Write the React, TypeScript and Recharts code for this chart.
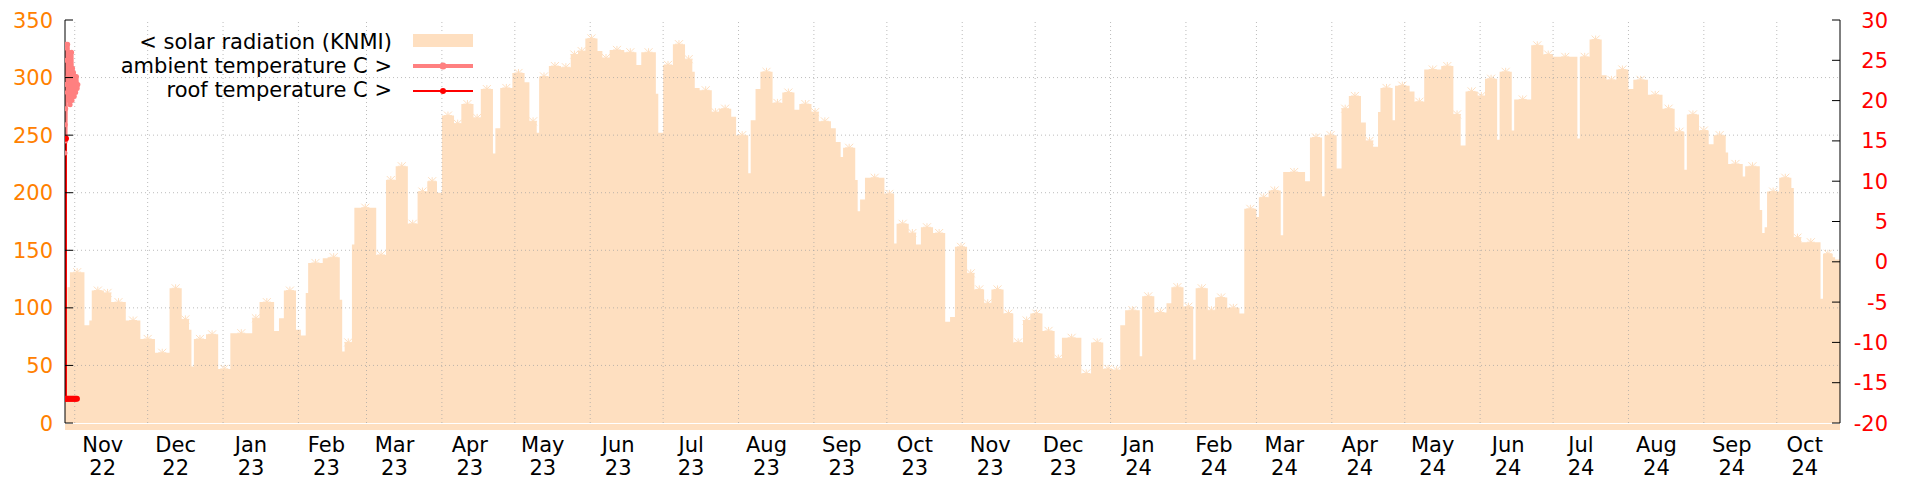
import { ComposedChart, Area, Line, XAxis, YAxis, ReferenceLine, ReferenceArea, Legend } from 'recharts';

// x values are day offsets counted from 1 Nov 2022
const monthStarts = [0, 30, 61, 92, 120, 151, 181, 212, 242, 273, 304, 334, 365, 395, 426, 457, 486, 517, 547, 578, 608, 639, 670, 700, 731];
const monthNames = ['Nov', 'Dec', 'Jan', 'Feb', 'Mar', 'Apr', 'May', 'Jun', 'Jul', 'Aug', 'Sep', 'Oct', 'Nov', 'Dec', 'Jan', 'Feb', 'Mar', 'Apr', 'May', 'Jun', 'Jul', 'Aug', 'Sep', 'Oct'];
const monthYears = ['22', '22', '23', '23', '23', '23', '23', '23', '23', '23', '23', '23', '23', '23', '24', '24', '24', '24', '24', '24', '24', '24', '24', '24'];

const leftTicks = [0, 50, 100, 150, 200, 250, 300, 350];
const rightTicks = [-20, -15, -10, -5, 0, 5, 10, 15, 20, 25, 30];

// solar radiation (KNMI), step series: day where a new level starts, and the level
const radDays = [-4, -3, -2, 4, 6, 7, 12, 15, 21, 27, 33, 39, 44, 47, 48, 49, 54, 59, 64, 73, 76, 82, 84, 86, 91, 93, 95, 96, 102, 104, 109, 110, 111, 114, 115, 124, 128, 132, 137, 141, 145, 149, 151, 156, 159, 164, 167, 172, 173, 175, 180, 185, 187, 190, 191, 195, 200, 204, 207, 210, 215, 217, 220, 226, 231, 233, 239, 240, 242, 246, 251, 254, 255, 257, 262, 265, 270, 272, 277, 278, 280, 282, 287, 291, 296, 298, 303, 306, 311, 313, 315, 316, 321, 322, 323, 325, 333, 337, 338, 343, 346, 348, 353, 358, 360, 362, 367, 370, 374, 377, 382, 386, 390, 393, 398, 403, 406, 414, 418, 423, 427, 430, 432, 438, 439, 444, 449, 451, 456, 460, 461, 466, 469, 474, 479, 481, 486, 487, 491, 496, 497, 506, 508, 513, 514, 519, 521, 524, 529, 531, 534, 536, 537, 542, 543, 549, 551, 555, 562, 567, 570, 572, 577, 580, 585, 586, 591, 592, 599, 604, 608, 618, 619, 623, 628, 630, 634, 639, 641, 647, 653, 658, 662, 663, 668, 672, 674, 679, 680, 686, 687, 693, 694, 695, 696, 701, 706, 707, 710, 718, 719, 723, 724, 726];
const radValues = [101, 118, 131, 85, 89, 115, 113, 105, 89, 73, 61, 117, 90, 81, 49, 73, 77, 47, 78, 91, 105, 80, 91, 115, 81, 76, 113, 139, 143, 144, 107, 62, 70, 155, 187, 146, 211, 223, 173, 201, 210, 200, 267, 260, 277, 265, 290, 234, 256, 291, 304, 296, 262, 252, 301, 310, 309, 320, 323, 334, 323, 317, 324, 322, 311, 322, 286, 252, 311, 329, 316, 305, 291, 289, 270, 273, 266, 250, 217, 263, 290, 305, 278, 287, 272, 277, 270, 262, 256, 244, 231, 239, 211, 184, 194, 213, 199, 156, 173, 165, 155, 170, 165, 88, 92, 153, 130, 116, 104, 116, 95, 70, 89, 95, 80, 56, 74, 43, 70, 47, 46, 85, 98, 58, 110, 96, 104, 118, 101, 55, 117, 98, 109, 100, 95, 186, 179, 196, 202, 163, 218, 210, 248, 197, 250, 221, 273, 284, 261, 245, 240, 270, 291, 263, 293, 288, 279, 307, 310, 268, 241, 288, 284, 299, 246, 305, 254, 281, 328, 320, 318, 247, 318, 333, 302, 298, 307, 290, 298, 285, 273, 253, 220, 268, 254, 242, 250, 235, 225, 214, 223, 185, 165, 170, 201, 213, 204, 161, 157, 108, 147, 144, 142, 142];

// ambient temperature, only logged during the first days
const ambDays = [-4, -3.9, -3.8, -3.7, -3.6, -3.5, -3.4, -3.3, -3.1, -2.9, -2.7, -2.5, -2.3, -2.1, -1.9, -1.7, -1.5, -1.3, -1.1, -0.9, -0.7, -0.5, -0.2, 0.1, 0.4, 0.7, 1.0, 1.3];
const ambTemps = [13.5, 17, 15, 19, 22, 27, 25, 26.5, 21, 27, 23, 26, 20, 25, 19.5, 24.5, 21, 26, 20, 24, 22, 23.5, 20.5, 23, 21, 23, 21.5, 22];

// roof temperature
const roofDays = [-4, -3.9, -3.6, -3.6, -3.1, -2.6, -2.1, -1.6, -1.1, -0.6, -0.1, 0.4, 0.9];
const roofTemps = [-17, 15.3, 15.3, -17, -17, -17, -17, -17, -17, -17, -17, -17, -17];

const legendLabels = ['< solar radiation (KNMI)', 'ambient temperature C >', 'roof temperature C >'];

const RAD_COLOR = '#fedfc0';
const AMB_COLOR = '#ff8080';
const ROOF_COLOR = '#ff0000';
const LEFT_COLOR = '#ff8000';
const FONT = 21;
const X_DOMAIN = [-4, 726];

const radData = radDays.map((d, i) => ({ day: d, rad: radValues[i] }));
const ambData = ambDays.map((d, i) => ({ day: d, temp: ambTemps[i] }));
const roofData = roofDays.map((d, i) => ({ day: d, temp: roofTemps[i] }));

// point markers sit in the middle of each longer plateau
const starData = radDays
  .slice(0, -1)
  .map((d, i) => ({ start: d, len: radDays[i + 1] - d, rad: radValues[i] }))
  .filter((p) => p.len >= 3)
  .map((p) => ({ day: p.start + p.len / 2, rad: p.rad }));

const minorTicks: number[] = [];
monthStarts.slice(0, -1).forEach((m, i) => {
  const len = monthStarts[i + 1] - m;
  minorTicks.push(m, m + len / 4, m + len / 2, m + (3 * len) / 4);
});
const labelTicks = monthStarts.slice(0, -1).map((m) => m + 11.5);

// eslint-disable-next-line @typescript-eslint/no-explicit-any
const BottomTick = (props: any) => {
  const { x, y, payload } = props;
  const major = monthStarts.includes(payload.value);
  return <line x1={x} x2={x} y1={y} y2={y - (major ? 8 : 5)} stroke="#000" />;
};

// eslint-disable-next-line @typescript-eslint/no-explicit-any
const TopTick = (props: any) => {
  const { x, y, payload } = props;
  const major = monthStarts.includes(payload.value);
  return <line x1={x} x2={x} y1={y} y2={y + (major ? 8 : 5)} stroke="#000" />;
};

// eslint-disable-next-line @typescript-eslint/no-explicit-any
const MonthLabel = (props: any) => {
  const { x, y, index } = props;
  return (
    <text x={x} textAnchor="middle" fontSize={FONT} fill="#000">
      <tspan x={x} y={y + 29}>{monthNames[index]}</tspan>
      <tspan x={x} y={y + 52}>{monthYears[index]}</tspan>
    </text>
  );
};

// eslint-disable-next-line @typescript-eslint/no-explicit-any
const LeftTick = (props: any) => {
  const { x, y, payload } = props;
  return (
    <g>
      <line x1={x} x2={x + 8} y1={y} y2={y} stroke="#000" />
      <text x={x - 12} y={y} dy="0.36em" textAnchor="end" fontSize={FONT} fill={LEFT_COLOR}>
        {payload.value}
      </text>
    </g>
  );
};

// eslint-disable-next-line @typescript-eslint/no-explicit-any
const RightTick = (props: any) => {
  const { x, y, payload } = props;
  return (
    <g>
      <line x1={x} x2={x - 8} y1={y} y2={y} stroke="#000" />
      <text x={x + 48} y={y} dy="0.36em" textAnchor="end" fontSize={FONT} fill={ROOF_COLOR}>
        {payload.value}
      </text>
    </g>
  );
};

// eslint-disable-next-line @typescript-eslint/no-explicit-any
const Asterisk = (props: any) => {
  const { cx, cy } = props;
  if (cx == null || cy == null) return null;
  const r = 4;
  return (
    <g stroke={RAD_COLOR} strokeWidth={1}>
      <line x1={cx - r} x2={cx + r} y1={cy} y2={cy} />
      <line x1={cx} x2={cx} y1={cy - r} y2={cy + r} />
      <line x1={cx - r} x2={cx + r} y1={cy - r} y2={cy + r} />
      <line x1={cx - r} x2={cx + r} y1={cy + r} y2={cy - r} />
    </g>
  );
};

const LegendBox = () => (
  <svg width={480} height={110} style={{ fontFamily: '"DejaVu Sans", sans-serif' }}>
    {legendLabels.map((label, i) => {
      const base = 49 + i * 24;
      const mid = base - 8;
      return (
        <g key={label}>
          <text x={392} y={base} textAnchor="end" fontSize={FONT} fill="#000">
            {label}
          </text>
          {i === 0 && <rect x={413} y={mid - 7} width={60} height={13} fill={RAD_COLOR} />}
          {i === 1 && (
            <g>
              <line x1={413} x2={473} y1={mid + 1} y2={mid + 1} stroke={AMB_COLOR} strokeWidth={4} />
              <circle cx={443} cy={mid + 1} r={3.5} fill={AMB_COLOR} />
            </g>
          )}
          {i === 2 && (
            <g>
              <line x1={413} x2={473} y1={mid + 2} y2={mid + 2} stroke={ROOF_COLOR} strokeWidth={2} />
              <circle cx={443} cy={mid + 2} r={3} fill={ROOF_COLOR} />
            </g>
          )}
        </g>
      );
    })}
  </svg>
);

export default function App() {
  return (
    <div style={{ position: 'absolute', left: 0, top: 0, width: 1920, height: 480, background: '#fff' }}>
      <ComposedChart
        width={1920}
        height={480}
        margin={{ top: 20, right: 20, bottom: 7, left: 5 }}
        style={{ fontFamily: '"DejaVu Sans", sans-serif' }}
      >
        <XAxis
          xAxisId={0}
          dataKey="day"
          type="number"
          domain={X_DOMAIN}
          allowDataOverflow
          ticks={minorTicks}
          interval={0}
          height={0}
          tickSize={0}
          tickMargin={0}
          tick={<BottomTick />}
          axisLine={{ stroke: '#000' }}
        />
        <XAxis
          xAxisId="labels"
          dataKey="day"
          type="number"
          domain={X_DOMAIN}
          allowDataOverflow
          ticks={labelTicks}
          interval={0}
          height={50}
          tickSize={0}
          tickMargin={0}
          tick={<MonthLabel />}
          axisLine={false}
          tickLine={false}
        />
        <XAxis
          xAxisId="top"
          orientation="top"
          dataKey="day"
          type="number"
          domain={X_DOMAIN}
          allowDataOverflow
          ticks={minorTicks}
          interval={0}
          height={0}
          tickSize={0}
          tickMargin={0}
          tick={<TopTick />}
          axisLine={{ stroke: '#000' }}
        />
        <YAxis
          yAxisId="left"
          domain={[0, 350]}
          ticks={leftTicks}
          interval={0}
          width={60}
          tickSize={0}
          tickMargin={0}
          tick={<LeftTick />}
          axisLine={{ stroke: '#000' }}
        />
        <YAxis
          yAxisId="right"
          orientation="right"
          domain={[-20, 30]}
          ticks={rightTicks}
          interval={0}
          width={60}
          tickSize={0}
          tickMargin={0}
          tick={<RightTick />}
          axisLine={{ stroke: '#000' }}
        />
        <Area
          data={radData}
          xAxisId={0}
          yAxisId="left"
          type="stepAfter"
          dataKey="rad"
          fill={RAD_COLOR}
          fillOpacity={1}
          stroke="none"
          dot={false}
          activeDot={false}
          isAnimationActive={false}
        />
        {/* the thick fill border of the original spills a few pixels under the x axis */}
        <ReferenceArea
          xAxisId={0}
          yAxisId="left"
          x1={X_DOMAIN[0]}
          x2={X_DOMAIN[1]}
          y1={-6}
          y2={-0.8}
          ifOverflow="visible"
          fill={RAD_COLOR}
          fillOpacity={1}
          stroke="none"
        />
        <Line
          data={starData}
          xAxisId={0}
          yAxisId="left"
          dataKey="rad"
          stroke="none"
          dot={<Asterisk />}
          activeDot={false}
          isAnimationActive={false}
          legendType="none"
        />
        {monthStarts.slice(0, -1).map((m) => (
          <ReferenceLine
            key={`gx-${m}`}
            x={m}
            xAxisId={0}
            yAxisId="left"
            stroke="#a0a0a0"
            strokeOpacity={0.7}
            strokeDasharray="1 3"
          />
        ))}
        {leftTicks.slice(1, -1).map((v) => (
          <ReferenceLine
            key={`gy-${v}`}
            y={v}
            xAxisId={0}
            yAxisId="left"
            stroke="#a0a0a0"
            strokeOpacity={0.7}
            strokeDasharray="1 3"
          />
        ))}
        <Line
          data={ambData}
          xAxisId={0}
          yAxisId="right"
          dataKey="temp"
          stroke={AMB_COLOR}
          strokeWidth={4}
          dot={{ r: 2.5, fill: AMB_COLOR, stroke: 'none' }}
          activeDot={false}
          isAnimationActive={false}
        />
        <Line
          data={roofData}
          xAxisId={0}
          yAxisId="right"
          dataKey="temp"
          stroke={ROOF_COLOR}
          strokeWidth={2}
          dot={{ r: 3, fill: ROOF_COLOR, stroke: 'none' }}
          activeDot={false}
          isAnimationActive={false}
        />
        <Legend
          layout="horizontal"
          align="center"
          verticalAlign="middle"
          wrapperStyle={{ position: 'absolute', left: 0, top: 0, width: 480, height: 110 }}
          content={() => <LegendBox />}
        />
      </ComposedChart>
    </div>
  );
}
